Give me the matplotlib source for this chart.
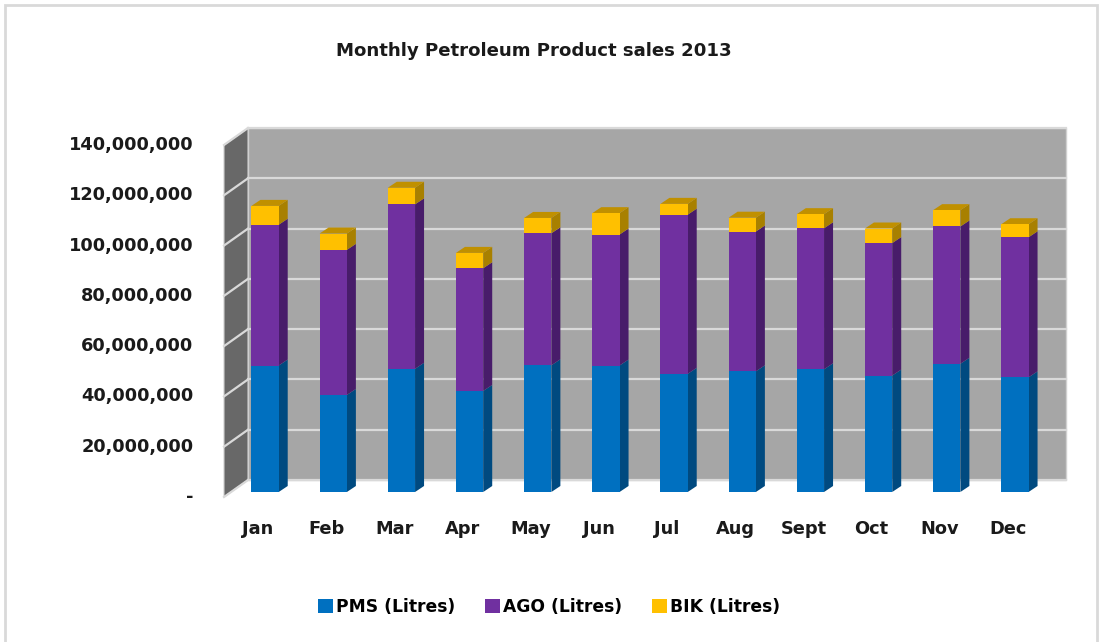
import numpy as np
import matplotlib
matplotlib.use("Agg")
import matplotlib.pyplot as plt
from matplotlib.patches import Polygon, Rectangle, Patch

## Data (litres)
months = ["Jan", "Feb", "Mar", "Apr", "May", "Jun", "Jul", "Aug", "Sept", "Oct", "Nov", "Dec"]
pms = np.array([50.3, 38.6, 49.0, 40.2, 50.4, 50.3, 47.0, 48.0, 48.8, 46.3, 51.0, 45.6]) * 1e6
ago = np.array([56.0, 57.7, 65.4, 48.8, 52.5, 52.1, 63.3, 55.6, 56.1, 52.7, 54.6, 55.7]) * 1e6
bik = np.array([7.5, 6.5, 6.6, 6.1, 6.1, 8.5, 4.3, 5.5, 5.6, 5.8, 6.5, 5.2]) * 1e6
series_names = ["PMS (Litres)", "AGO (Litres)", "BIK (Litres)"]
yticks = np.arange(0, 140e6 + 1, 20e6)

front_cols = ["#0070C0", "#7030A0", "#FFC000"]
side_cols = ["#004A80", "#481C6A", "#A88000"]
top_col = "#C09000"

W, H = 1111, 642
fig = plt.figure(figsize=(W / 100, H / 100), dpi=100)
plt.rcParams['font.family'] = ['DejaVu Sans']

# chart border
fig.patches.append(Rectangle((5 / W, -0.1), 1092 / W, 1 - 5 / H + 0.1, transform=fig.transFigure,
                             fill=False, edgecolor="#D9D9D9", linewidth=2))

# axes = plane of the bar front faces
ax = fig.add_axes([231 / W, 150 / H, 818 / W, 352 / H])
ax.set_xlim(-0.5, 11.5)
ax.set_ylim(0, 140e6)
ax.axis("off")

xu = 818 / 12          # pixels per category
yu = 352 / 140e6       # pixels per litre
def px(dx, dy):
    return dx / xu, dy / yu

# depth offsets in pixels
back_dx, back_dy = px(17, 12)
front_dx, front_dy = px(-7, -5)
bar_dx, bar_dy = px(9, 6)

x0, x1 = -0.5, 11.5
# back wall
ax.add_patch(Rectangle((x0 + back_dx, back_dy), x1 - x0, 140e6, facecolor="#A6A6A6",
                       edgecolor="#D0D0D0", linewidth=1, clip_on=False, zorder=0))
# side wall
ax.add_patch(Polygon([(x0 + front_dx, front_dy), (x0 + back_dx, back_dy),
                      (x0 + back_dx, 140e6 + back_dy), (x0 + front_dx, 140e6 + front_dy)],
                     closed=True, facecolor="#686868", edgecolor="#D0D0D0", linewidth=0.8,
                     clip_on=False, zorder=0))
for v in yticks:
    ax.plot([x0 + back_dx, x1 + back_dx], [v + back_dy, v + back_dy], color="#D9D9D9",
            linewidth=1.6, clip_on=False, zorder=0.5)
    ax.plot([x0 + front_dx, x0 + back_dx], [v + front_dy, v + back_dy], color="#D9D9D9",
            linewidth=1.6, clip_on=False, zorder=0.5)
    label = "-" if v == 0 else f"{int(v):,}"
    ax.text(x0 + front_dx - 0.45, v + front_dy, label, ha="right", va="center",
            fontsize=12.8, fontweight="bold", color="#1a1a1a")

# stacked pseudo-3D bars
x = np.arange(len(months))
w = 0.40
bottoms = np.zeros(len(months))
stack = [pms, ago, bik]
for i, vals in enumerate(stack):
    ax.bar(x, vals, w, bottom=bottoms, color=front_cols[i], zorder=3)
    for xi, b, v in zip(x, bottoms, vals):
        r = xi + w / 2
        ax.add_patch(Polygon([(r, b), (r + bar_dx, b + bar_dy), (r + bar_dx, b + v + bar_dy), (r, b + v)],
                             closed=True, facecolor=side_cols[i], edgecolor="none", zorder=2))
    bottoms = bottoms + vals
for xi, t in zip(x, bottoms):
    l, r = xi - w / 2, xi + w / 2
    ax.add_patch(Polygon([(l, t), (l + bar_dx, t + bar_dy), (r + bar_dx, t + bar_dy), (r, t)],
                         closed=True, facecolor=top_col, edgecolor="none", zorder=2))

# month labels on the front plane
for xi, m in zip(x, months):
    ax.text(xi + front_dx, -32 / yu + front_dy, m, ha="center", va="center",
            fontsize=12.8, fontweight="bold", color="#1a1a1a", clip_on=False)

fig.text(534 / W, 1 - 51 / H, "Monthly Petroleum Product sales 2013", ha="center", va="center",
         fontsize=13.1, fontweight="bold", color="#1a1a1a")

handles = [Patch(facecolor=c, edgecolor="none") for c in front_cols]
fig.legend(handles, series_names, loc="center", bbox_to_anchor=(549 / W, 1 - 607 / H), ncol=3,
           frameon=False, prop={"weight": "bold", "size": 12.3}, handlelength=0.9, handleheight=0.9,
           handletextpad=0.2, columnspacing=1.7)

fig.savefig("out.png", dpi=100, facecolor="white")
